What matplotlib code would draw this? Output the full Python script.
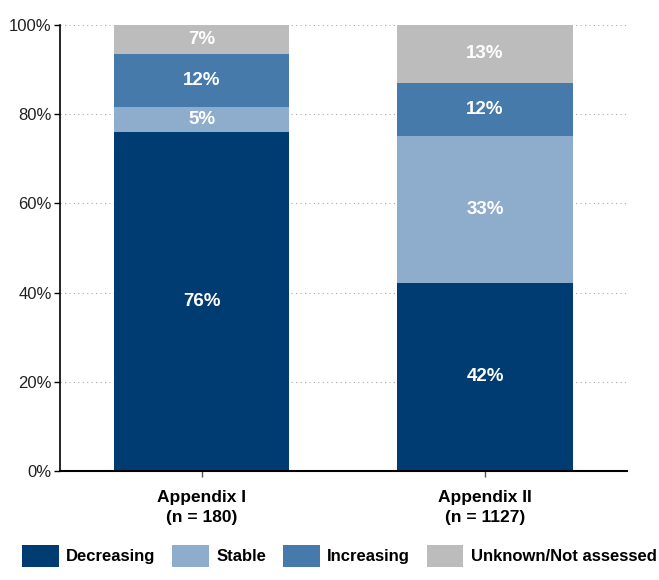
import matplotlib
matplotlib.use("Agg")
import matplotlib.pyplot as plt
import numpy as np

# Share of species by population trend, per CITES appendix
groups = ["Appendix I\n(n = 180)", "Appendix II\n(n = 1127)"]
trends = ["Decreasing", "Stable", "Increasing", "Unknown/Not assessed"]
decreasing = [76.1, 42.2]
stable = [5.4, 32.9]
increasing = [11.9, 11.9]
unknown = [6.6, 13.0]
colors = ["#003b71", "#8eadcd", "#467aab", "#bcbcbc"]

narrow = ["Liberation Sans Narrow", "Liberation Sans", "DejaVu Sans"]
regular = ["Liberation Sans", "DejaVu Sans"]

fig = plt.figure(figsize=(6.59, 5.8), dpi=100)
ax = fig.add_axes([0.091, 0.188, 0.86, 0.769])

x = np.arange(len(groups))
bottom = np.zeros(len(groups))
for name, vals, col in zip(trends, [decreasing, stable, increasing, unknown], colors):
    vals = np.array(vals)
    ax.bar(x, vals, width=0.62, bottom=bottom, color=col, label=name, zorder=2)
    for xi, b, v in zip(x, bottom, vals):
        ax.text(xi, b + v / 2, f"{v:.0f}%", ha="center", va="center",
                color="white", fontsize=13.5, fontweight="bold", family=narrow,
                zorder=3)
    bottom += vals

ax.set_xlim(-0.5, 1.5)
ax.set_ylim(0, 100)
ax.set_yticks([0, 20, 40, 60, 80, 100])
ax.set_yticklabels([f"{t}%" for t in [0, 20, 40, 60, 80, 100]],
                   family=regular, fontsize=12, color="#222222")
ax.set_xticks(x)
ax.set_xticklabels(groups, family=narrow, fontsize=12.5, fontweight="bold",
                   linespacing=1.4)
ax.tick_params(axis="y", length=4, width=1, pad=2)
ax.tick_params(axis="x", length=4, width=1, pad=10, color="#555555")
ax.yaxis.grid(True, linestyle=(0, (1, 3)), color="#aaaaaa", linewidth=0.8, zorder=0)
for s in ["top", "right"]:
    ax.spines[s].set_visible(False)
ax.spines["left"].set_linewidth(1.2)
ax.spines["bottom"].set_linewidth(1.5)

fig.legend(loc="lower center", bbox_to_anchor=(0.515, -0.003), ncol=4,
           frameon=False, handlelength=2.2, handleheight=1.6,
           columnspacing=1.0, handletextpad=0.45,
           prop={"family": narrow, "weight": "bold", "size": 12})

fig.savefig("out.png", dpi=100)
plt.close(fig)
